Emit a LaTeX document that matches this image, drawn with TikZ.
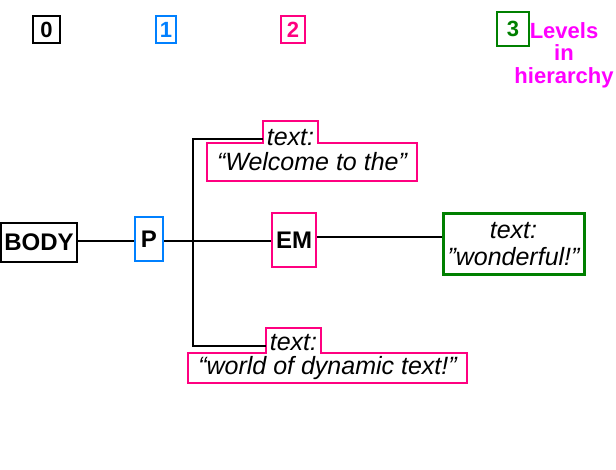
\documentclass[tikz,border=0pt]{standalone}
\usepackage{fontspec}
\setmainfont{Liberation Sans}
\definecolor{lvlblue}{RGB}{0,128,255}
\definecolor{lvlpink}{RGB}{255,0,128}
\definecolor{lvlgreen}{RGB}{0,128,0}
\definecolor{lvlmagenta}{RGB}{255,0,255}
\tikzset{
  levelbox/.style={draw, line width=2.5pt, inner sep=0pt, minimum height=27pt, font=\fontsize{22}{24}\selectfont\bfseries},
  tagbox/.style={draw, line width=2.5pt, inner sep=0pt, font=\fontsize{24}{26}\selectfont\bfseries},
  wire/.style={line width=1.6pt},
  textbox/.style={inner sep=0pt, font=\fontsize{25}{27}\selectfont\itshape},
  tabtext/.style={inner xsep=4pt, inner ysep=2pt, text height=23pt, text depth=0pt, anchor=base, font=\fontsize{25}{27}\selectfont\itshape},
  pinkline/.style={draw=lvlpink, line width=2pt}
}
\begin{document}
\begin{tikzpicture}[x=1pt,y=-1pt]
\useasboundingbox (0,0) rectangle (616,470);

%draw level numbers
\node[levelbox, minimum width=27pt] (lvlzero) at (46.5,29.5) {0};
\node[levelbox, draw=lvlblue, text=lvlblue, minimum width=20pt] (lvlone) at (166,29.5) {1};
\node[levelbox, draw=lvlpink, text=lvlpink, minimum width=24pt] (lvltwo) at (293,29.5) {2};
\node[levelbox, draw=lvlgreen, text=lvlgreen, minimum width=32pt, minimum height=34pt] (lvlthree) at (513,29) {3};
\node[anchor=north, align=center, inner sep=0pt, text=lvlmagenta, font=\fontsize{22}{22.5}\selectfont\bfseries] (levels) at (564,22) {Levels\\in\\hierarchy};

%draw element boxes
\node[tagbox, minimum width=76pt, minimum height=39pt] (body) at (39,242.5) {BODY};
\node[tagbox, draw=lvlblue, minimum width=28pt, minimum height=44pt] (p) at (149,239) {P};
\node[tagbox, draw=lvlpink, minimum width=44pt, minimum height=54pt] (em) at (294,240) {EM};
\node[textbox, draw=lvlgreen, line width=3pt, align=center, minimum width=141pt, minimum height=61pt] (wonderful) at (513.5,244.5) {text:\\"wonderful!"};

%draw text boxes
\node[textbox, minimum width=210pt, minimum height=38pt] (welcome) at (312,162) {“Welcome to the”};
\node[tabtext] (tabup) at (290.5,146) {text:};
\node[textbox, minimum width=279pt, minimum height=30pt] (dynamic) at (327.5,368) {“world of dynamic text!"};
\node[tabtext, text height=21pt, inner ysep=1.5pt] (tabdown) at (293.5,350.5) {text:};

\draw[pinkline] (tabup.west |- welcome.north) -- (tabup.north west) -- (tabup.north east) -- (tabup.east |- welcome.north) -- (welcome.north east) -- (welcome.south east) -- (welcome.south west) -- (welcome.north west) -- cycle;
\draw[pinkline] (tabdown.west |- dynamic.north) -- (tabdown.north west) -- (tabdown.north east) -- (tabdown.east |- dynamic.north) -- (dynamic.north east) -- (dynamic.south east) -- (dynamic.south west) -- (dynamic.north west) -- cycle;

%draw connectors
\coordinate (fork) at (193,241);
\draw[wire] (body.east |- fork) -- (p.west |- fork);
\draw[wire] (p.east |- fork) -- (em.west |- fork);
\draw[wire] ([yshift=7pt]tabup.base west) -| (fork) |- ([yshift=4.5pt]tabdown.base west);
\draw[wire] ([yshift=3pt]em.east) -- ([yshift=3pt]em.east -| wonderful.west);

\end{tikzpicture}
\end{document}
